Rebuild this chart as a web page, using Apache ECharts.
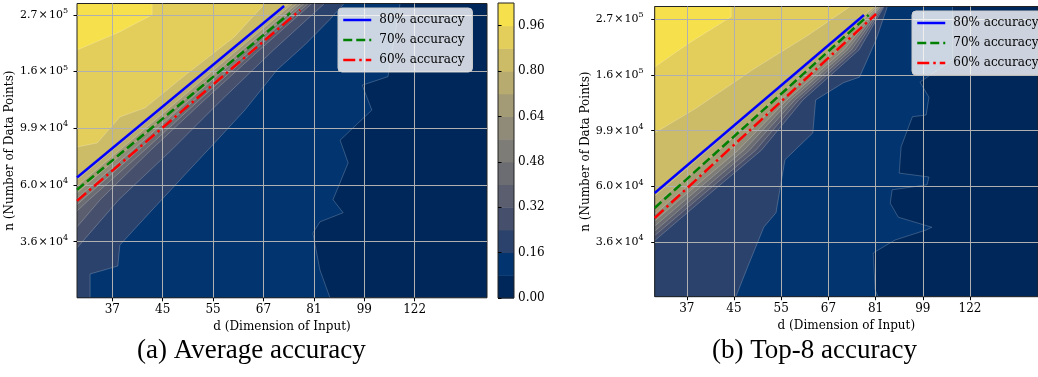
<!DOCTYPE html>
<html>
<head>
<meta charset="utf-8">
<script src="https://cdn.jsdelivr.net/npm/echarts@6/dist/echarts.min.js"></script>
<style>
  html, body { margin: 0; padding: 0; background: #fff; }
  #chart { width: 1038px; height: 377px; }
</style>
</head>
<body>
<div id="chart"></div>
<script>
// tick labels (axes are log-spaced, one tick per index step)
const dTicks = [37, 45, 55, 67, 81, 99, 122]
const nTickMant = ['3.6', '6.0', '9.9', '1.6', '2.7']
const nTickExp = [4, 4, 4, 5, 5]
const colorbarTicks = [0, 0.16, 0.32, 0.48, 0.64, 0.8, 0.96]

// contour levels and their fill colours (cividis)
const levels = [0, 0.08, 0.16, 0.24, 0.32, 0.4, 0.48, 0.56, 0.64, 0.72, 0.8, 0.88, 0.96, 1.04]
const bandColors = ['#002759', '#02346f', '#2a426c', '#46506c', '#5a5e6e', '#6b6d72', '#7d7c76',
  '#8f8b78', '#a39b75', '#b7ab70', '#cdbc67', '#e3ce5c', '#f6e14d']

// contour lines, [d index, n index] points.
// entry k is the line accuracy = levels[k + 1]; higher accuracy lies above / left of it
const avgContours = [
  [[5.32, 0], [5.12, 0.5], [4.98, 1.15], [5.12, 1.35], [5.58, 1.51], [5.38, 1.74], [5.68, 2.39], [5.52, 2.79], [6.15, 3.32], [5.96, 3.76], [6.47, 3.91], [6.71, 5.2]],
  [[0.56, 0], [0.56, 0.43], [1.11, 0.57], [1.15, 0.94], [1.75, 1.52], [2.44, 2.18], [3.08, 2.79], [3.63, 3.32], [4.27, 4.03], [4.82, 4.47], [5.32, 4.92], [5.6, 5.2]],
  [[0.3, 0.89], [1.13, 1.74], [2.18, 2.62], [3.17, 3.5], [4.2, 4.38], [5.21, 5.2]],
  [[0.3, 1.26], [0.76, 1.74], [1.77, 2.62], [2.83, 3.5], [3.92, 4.38], [4.96, 5.2]],
  [[0.3, 1.54], [0.54, 1.74], [1.65, 2.62], [2.73, 3.5], [3.83, 4.38], [4.89, 5.2]],
  [[0.3, 1.65], [0.41, 1.74], [1.53, 2.62], [2.63, 3.5], [3.75, 4.38], [4.81, 5.2]],
  [[0.3, 1.76], [1.41, 2.62], [2.53, 3.5], [3.66, 4.38], [4.74, 5.2]],
  [[0.3, 1.86], [1.29, 2.62], [2.43, 3.5], [3.58, 4.38], [4.67, 5.2]],
  [[0.3, 1.98], [1.15, 2.62], [2.32, 3.5], [3.48, 4.38], [4.58, 5.2]],
  [[0.3, 2.09], [2.4, 3.65], [4.51, 5.2]],
  [[0.3, 2.67], [0.7, 2.74], [1.15, 3.2], [1.65, 3.36], [2.48, 3.96], [3.42, 4.61], [4.03, 5.2]],
  [[0.3, 4.38], [1.15, 4.7], [1.79, 5.0], [1.79, 5.2]]
]

const top8Contours = [
  [[5.05, 0.02], [4.99, 0.15], [4.95, 0.81], [5.41, 1.04], [6.07, 1.22], [6.19, 1.27], [5.48, 1.45], [5.31, 1.7], [5.35, 1.94], [6.09, 2.03], [6.13, 2.17], [5.5, 2.24], [5.54, 2.71], [5.78, 3.25], [6.07, 3.28], [6.13, 3.6], [5.94, 3.87], [6.63, 4.27], [6.63, 5.225]],
  [[2.04, 0.02], [2.29, 0.56], [2.63, 1.27], [2.89, 1.53], [3.08, 2.48], [3.67, 2.96], [3.73, 3.55], [4.32, 3.86], [4.66, 3.96], [5.01, 4.63], [5.25, 5.225]],
  [[0.32, 1.03], [1.33, 1.76], [2.58, 2.65], [3.46, 3.55], [4.65, 4.45], [5.18, 5.225]],
  [[0.32, 1.12], [1.21, 1.76], [2.46, 2.65], [3.37, 3.55], [4.57, 4.45], [5.16, 5.225]],
  [[0.32, 1.2], [1.09, 1.76], [2.33, 2.65], [3.29, 3.55], [4.49, 4.45], [5.14, 5.225]],
  [[0.32, 1.29], [0.97, 1.76], [2.21, 2.65], [3.2, 3.55], [4.41, 4.45], [5.11, 5.225]],
  [[0.32, 1.38], [0.84, 1.76], [2.09, 2.65], [3.12, 3.55], [4.33, 4.45], [5.09, 5.225]],
  [[0.32, 1.5], [0.67, 1.76], [1.92, 2.65], [3.0, 3.55], [4.22, 4.45], [5.06, 5.225]],
  [[0.32, 1.67], [0.44, 1.76], [1.68, 2.65], [2.84, 3.55], [4.07, 4.45], [5.02, 5.225]],
  [[0.32, 1.83], [2.65, 3.53], [4.97, 5.225]],
  [[0.32, 2.96], [1.21, 3.41], [2.39, 4.09], [3.57, 4.71], [4.46, 5.225]],
  [[0.32, 4.14], [1.05, 4.57], [1.94, 5.04], [1.94, 5.225]]
]

// fitted accuracy lines, [d index, n index] end points
const avgFit80 = [[0.3, 2.13], [4.41, 5.157]]
const avgFit70 = [[0.3, 1.915], [4.53, 5.034]]
const avgFit60 = [[0.3, 1.72], [4.73, 5.086]]
const top8Fit80 = [[0.32, 1.884], [4.754, 5.073]]
const top8Fit70 = [[0.32, 1.615], [4.852, 5.073]]
const top8Fit60 = [[0.32, 1.435], [5.01, 5.091]]

const FONT = 'DejaVu Serif'
const chart = echarts.init(document.getElementById('chart'))

// filled contours: base band, then every higher band painted on top
function contourSeries(contours, axisIndex) {
  return {
    type: 'custom', xAxisIndex: axisIndex, yAxisIndex: axisIndex, z: -1, silent: true,
    data: bandColors.map((c, k) => [k]),
    renderItem: (params, api) => {
      const cs = params.coordSys
      const box = { x: cs.x, y: cs.y, width: cs.width, height: cs.height }
      const k = params.dataIndex
      if (k === 0) return { type: 'rect', shape: box, style: { fill: bandColors[0] } }
      const pts = contours[k - 1]
      const first = pts[0]
      const last = pts[pts.length - 1]
      const ring = pts.concat([[last[0], 99], [-99, 99], [-99, first[1]]])
      const poly = echarts.graphic.clipPointsByRect(ring.map(p => api.coord(p)), box)
      const line = echarts.graphic.clipPointsByRect(pts.map(p => api.coord(p)), box)
      return {
        type: 'group',
        children: [
          { type: 'polygon', shape: { points: poly }, style: { fill: bandColors[k] } },
          { type: 'polyline', shape: { points: line }, style: { fill: null, stroke: 'rgba(255,255,255,0.3)', lineWidth: 0.7 } }
        ]
      }
    }
  }
}

function dAxis(gridIndex, min, max) {
  const pos = dTicks.map((d, i) => i + 1)
  return {
    type: 'value', gridIndex, min, max,
    axisLine: { show: false },
    axisTick: { show: true, customValues: pos, length: 3.5, lineStyle: { color: '#000', width: 1 } },
    axisLabel: {
      customValues: pos, margin: 6, color: '#000', fontFamily: FONT, fontSize: 12,
      formatter: v => String(dTicks[Math.round(v) - 1])
    },
    splitLine: { show: true, lineStyle: { color: '#b0b0b0', width: 1 } },
    name: 'd (Dimension of Input)', nameLocation: 'middle', nameGap: 21,
    nameTextStyle: { color: '#000', fontFamily: FONT, fontSize: 12 }
  }
}

function nAxis(gridIndex, min, max, labelMargin, nameGap) {
  const pos = nTickMant.map((m, i) => i + 1)
  return {
    type: 'value', gridIndex, min, max,
    axisLine: { show: false },
    axisTick: { show: true, customValues: pos, length: 3.5, lineStyle: { color: '#000', width: 1 } },
    axisLabel: {
      customValues: pos, margin: labelMargin, color: '#000',
      formatter: v => {
        const i = Math.round(v) - 1
        return '{m|' + nTickMant[i] + '\u200a×\u200a10}{e|' + nTickExp[i] + '}'
      },
      rich: {
        m: { fontFamily: FONT, fontSize: 11, color: '#000', lineHeight: 16 },
        e: { fontFamily: FONT, fontSize: 8, color: '#000', lineHeight: 10, verticalAlign: 'top' }
      }
    },
    splitLine: { show: true, lineStyle: { color: '#b0b0b0', width: 1 } },
    name: 'n (Number of Data Points)', nameLocation: 'middle', nameGap, nameRotate: 90,
    nameTextStyle: { color: '#000', fontFamily: FONT, fontSize: 12 }
  }
}

function fitLine(name, data, color, type, xi) {
  return {
    name, type: 'line', xAxisIndex: xi, yAxisIndex: xi, data, symbol: 'none', z: 5,
    clip: true, silent: true,
    lineStyle: { color, width: 2.5, type, cap: 'butt' }, itemStyle: { color }
  }
}

function legendAt(left, top) {
  return {
    orient: 'vertical', left, top, selectedMode: false,
    data: ['80% accuracy', '70% accuracy', '60% accuracy'],
    backgroundColor: 'rgba(255,255,255,0.8)', borderColor: '#cccccc', borderWidth: 1, borderRadius: 4,
    padding: [6, 8, 6, 4], itemGap: 8, itemWidth: 28, itemHeight: 12,
    lineStyle: { width: 2.5 }, itemStyle: { opacity: 0 },
    textStyle: { color: '#000', fontFamily: FONT, fontSize: 12, padding: [0, 0, 0, 3] }
  }
}

const dash = [9, 4]
const dashDot = [12, 4, 2.5, 4]

const option = {
  animation: false,
  backgroundColor: '#fff',
  grid: [
    { left: 77, top: 3.5, width: 410, height: 294.3, show: true, borderColor: '#222', borderWidth: 1, backgroundColor: 'transparent' },
    { left: 654.7, top: 6.5, width: 412.5, height: 290.2, show: true, borderColor: '#222', borderWidth: 1, backgroundColor: 'transparent' },
    { left: 498, top: 3, width: 16, height: 295, show: true, borderColor: '#222', borderWidth: 1, backgroundColor: 'transparent' }
  ],
  xAxis: [
    dAxis(0, 0.3, 8.435),
    dAxis(1, 0.32, 8.44),
    { type: 'value', gridIndex: 2, min: 0, max: 1, show: false }
  ],
  yAxis: [
    nAxis(0, 0.01, 5.2, 9, 56),
    nAxis(1, 0.025, 5.225, 11, 55),
    {
      type: 'value', gridIndex: 2, min: 0, max: 1.04, position: 'right',
      axisLine: { show: false }, splitLine: { show: false },
      axisTick: { show: true, customValues: colorbarTicks, length: 3.5, lineStyle: { color: '#000' } },
      axisLabel: { customValues: colorbarTicks, margin: 4, color: '#000', fontFamily: FONT, fontSize: 12, formatter: v => v.toFixed(2) }
    }
  ],
  legend: [legendAt(338, 8), legendAt(912, 11)],
  series: [
    contourSeries(avgContours, 0),
    contourSeries(top8Contours, 1),
    {
      type: 'custom', xAxisIndex: 2, yAxisIndex: 2, z: -1, silent: true,
      data: bandColors.map((c, k) => [levels[k], levels[k + 1], k]),
      renderItem: (params, api) => {
        const p0 = api.coord([0, api.value(1)])
        const p1 = api.coord([1, api.value(0)])
        return {
          type: 'rect',
          shape: { x: p0[0], y: p0[1], width: p1[0] - p0[0], height: p1[1] - p0[1] + 0.5 },
          style: { fill: bandColors[api.value(2)] }
        }
      }
    },
    fitLine('80% accuracy', avgFit80, '#0000ff', 'solid', 0),
    fitLine('70% accuracy', avgFit70, '#008000', dash, 0),
    fitLine('60% accuracy', avgFit60, '#ff0000', dashDot, 0),
    fitLine('80% accuracy', top8Fit80, '#0000ff', 'solid', 1),
    fitLine('70% accuracy', top8Fit70, '#008000', dash, 1),
    fitLine('60% accuracy', top8Fit60, '#ff0000', dashDot, 1)
  ],
  graphic: [
    { type: 'text', left: 137, top: 337, style: { text: '(a) Average accuracy', font: '27px "Liberation Serif"', fill: '#000' } },
    { type: 'text', left: 712, top: 337, style: { text: '(b) Top-8 accuracy', font: '27px "Liberation Serif"', fill: '#000' } }
  ]
}

chart.setOption(option)
</script>
</body>
</html>
